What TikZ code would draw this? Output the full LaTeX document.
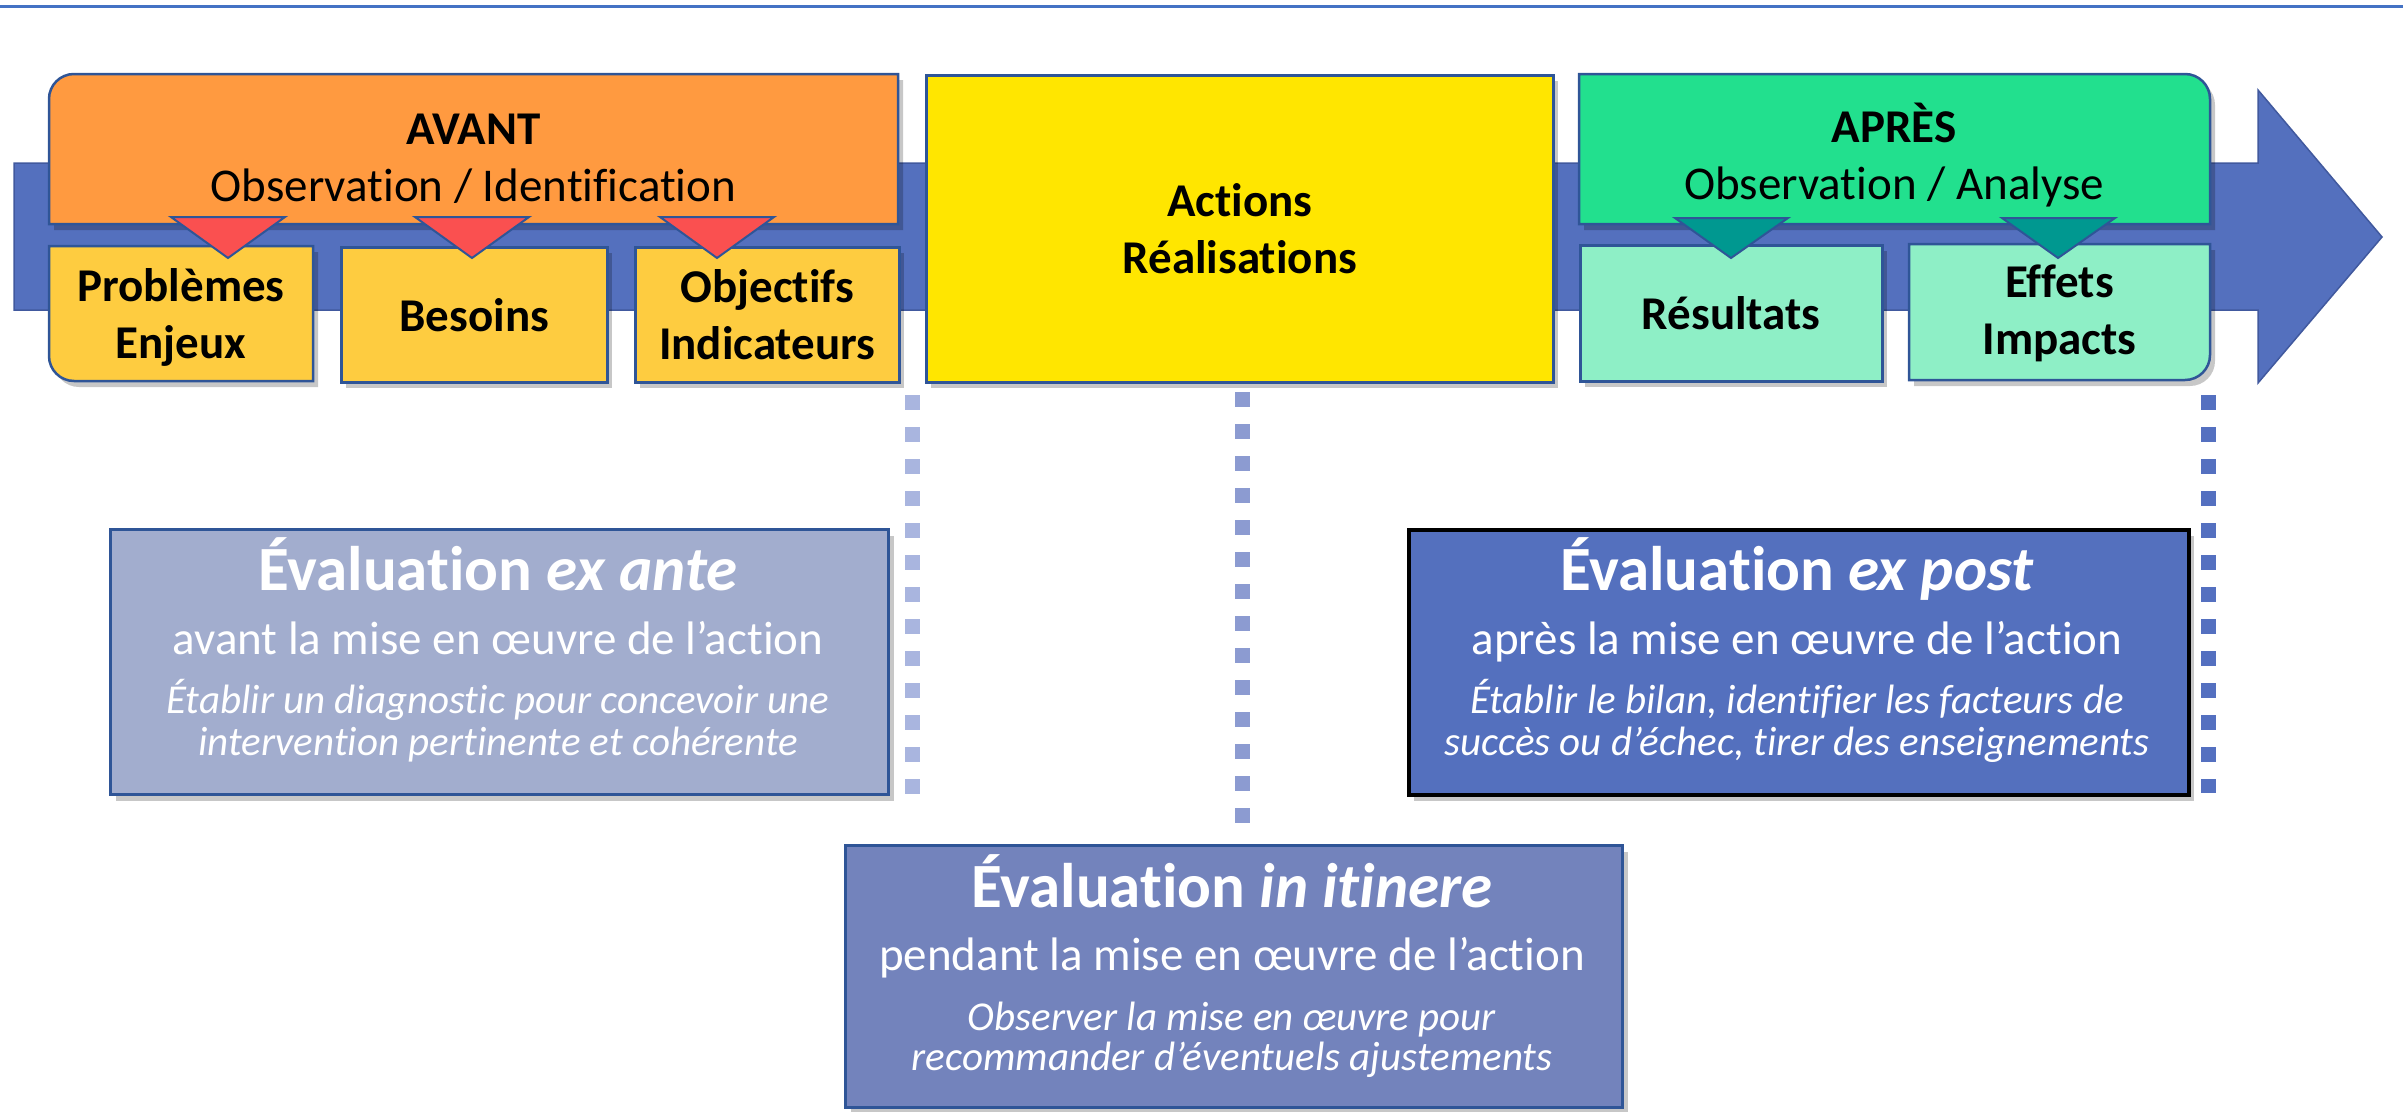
\documentclass[tikz,border=0pt]{standalone}
\usepackage{fontspec}
\setmainfont{Carlito}[Ligatures=NoCommon]
\usetikzlibrary{shadows}
\definecolor{topblue}{HTML}{4472C4}
\definecolor{arrowblue}{HTML}{5470BE}
\definecolor{arrowedge}{HTML}{41599E}
\definecolor{edgeblue}{HTML}{2F5597}
\definecolor{avorange}{HTML}{FF9A40}
\definecolor{cgold}{HTML}{FECC40}
\definecolor{actyellow}{HTML}{FFE600}
\definecolor{apgreen}{HTML}{22E08E}
\definecolor{ltgreen}{HTML}{8EEFC6}
\definecolor{trired}{HTML}{FA5050}
\definecolor{triteal}{HTML}{009890}
\definecolor{exantefill}{HTML}{A2ADCE}
\definecolor{itinerefill}{HTML}{7383BC}
\definecolor{dotA}{HTML}{A9B5DF}
\definecolor{dotB}{HTML}{8C9BD1}
\definecolor{dotC}{HTML}{5470C0}
\begin{document}
\begin{tikzpicture}[x=1pt,y=-1pt]
\tikzset{
  shad/.style={drop shadow={shadow xshift=5pt,shadow yshift=-6pt,opacity=0.22,fill=black}},
  panel/.style={draw=edgeblue,line width=2.5pt,shad},
  lbl/.style={align=center,inner sep=0pt,font=\fontsize{47}{57}\selectfont},
  blbl/.style={lbl,font=\fontsize{47}{57}\selectfont\bfseries},
  panelbox/.style={panel,rectangle,anchor=north west,align=center,inner sep=0pt,font=\fontsize{47}{57}\selectfont\bfseries},
  tri/.style={draw=edgeblue,line width=2pt,line join=miter},
  dots/.style={line width=15pt,dash pattern=on 15pt off 17pt},
  evbox/.style={rectangle,anchor=north west,line width=3pt,shad,inner sep=0pt},
  evtitle/.style={anchor=base,inner sep=0pt,text=white,font=\fontsize{63}{64}\selectfont\bfseries},
  evsub/.style={anchor=base,inner sep=0pt,text=white,font=\fontsize{47}{57}\selectfont},
  evit/.style={anchor=base,inner sep=0pt,text=white,font=\fontsize{41}{42}\selectfont\itshape}
}
\useasboundingbox (0,0) rectangle (2403,1111);

% top rule
\coordinate (tlL) at (0,6);
\coordinate (tlR) at (2403,6);
\draw[topblue,line width=3pt] (tlL) -- (tlR);

% big arrow
\draw[fill=arrowblue,draw=arrowedge,line width=1.5pt]
  (14,163) -- (2258,163) -- (2258,90) -- (2382,237) -- (2258,383) -- (2258,310) -- (14,310) -- cycle;

% AVANT
\draw[panel,fill=avorange] (49,224) -- (49,99) arc[start angle=180,end angle=90,radius=25pt] -- (898,74) -- (898,224) -- cycle;
\node[lbl] (avant) at (473.5,158.5) {\textbf{AVANT}\\Observation / Identification};

\draw[panel,fill=cgold] (313,246) -- (49,246) -- (49,356) arc[start angle=180,end angle=270,radius=25pt] -- (313,381) -- cycle;
\node[blbl] (probl) at (181,317) {Problèmes\\Enjeux};
\node[panelbox,fill=cgold,minimum width=266pt,minimum height=135pt] (besoins) at (340,246) {Besoins};
\node[panelbox,fill=cgold,minimum width=264pt,minimum height=135pt] (objectifs) at (634,246) {Objectifs\\Indicateurs};

\draw[tri,fill=trired] (171,217) -- (285,217) -- (228,258) -- cycle;
\draw[tri,fill=trired] (415,217) -- (529,217) -- (472,258) -- cycle;
\draw[tri,fill=trired] (660,217) -- (774,217) -- (717,258) -- cycle;

% Actions
\node[panelbox,fill=actyellow,minimum width=627pt,minimum height=307pt] (actions) at (925,74) {Actions\\Réalisations};

% APRES
\draw[panel,fill=apgreen] (1579,224) -- (1579,74) -- (2185,74) arc[start angle=90,end angle=0,radius=25pt] -- (2210,224) -- cycle;
\node[lbl] (apres) at (1894,155) {\textbf{APRÈS}\\Observation / Analyse};
\node[panelbox,fill=ltgreen,minimum width=302pt,minimum height=136pt] (resultats) at (1579,244) {Résultats};
\draw[panel,fill=ltgreen] (1909,244) -- (2210,244) -- (2210,355) arc[start angle=0,end angle=-90,radius=25pt] -- (1909,380) -- cycle;
\node[blbl] (effets) at (2059.5,313) {Effets\\Impacts};

\draw[tri,fill=triteal] (1675,218) -- (1788,218) -- (1731,258) -- cycle;
\draw[tri,fill=triteal] (2002,218) -- (2115,218) -- (2058,258) -- cycle;

% dotted guides
\coordinate (dAs) at (912,395);
\coordinate (dAe) at (912,795);
\coordinate (dBs) at (1242,392);
\coordinate (dBe) at (1242,823);
\coordinate (dCs) at (2208,395);
\coordinate (dCe) at (2208,793);
\draw[dots,dotA] (dAs) -- (dAe);
\draw[dots,dotB] (dBs) -- (dBe);
\draw[dots,dotC] (dCs) -- (dCe);

% ex ante
\node[evbox,fill=exantefill,draw=edgeblue,minimum width=778pt,minimum height=265pt] (exante) at (109,528) {};
\node[evtitle] (exanteT) at (498,590) {Évaluation \textit{ex ante}};
\node[evsub] (exanteS) at (498,654) {avant la mise en œuvre de l’action};
\node[evit] (exanteI) at (498,713) {Établir un diagnostic pour concevoir une};
\node[evit] (exanteJ) at (498,755) {intervention pertinente et cohérente};

% ex post
\node[evbox,fill=arrowblue,draw=black,line width=3.5pt,minimum width=780pt,minimum height=265pt] (expost) at (1407,528) {};
\node[evtitle] (expostT) at (1797,590) {Évaluation \textit{ex post}};
\node[evsub] (expostS) at (1797,654) {après la mise en œuvre de l’action};
\node[evit] (expostI) at (1797,713) {Établir le bilan, identifier les facteurs de};
\node[evit] (expostJ) at (1797,755) {succès ou d’échec, tirer des enseignements};

% in itinere
\node[evbox,fill=itinerefill,draw=edgeblue,minimum width=777pt,minimum height=262pt] (itinere) at (844,844) {};
\node[evtitle] (itinereT) at (1232,907) {Évaluation \textit{in itinere}};
\node[evsub] (itinereS) at (1232,970) {pendant la mise en œuvre de l’action};
\node[evit] (itinereI) at (1232,1030) {Observer la mise en œuvre pour};
\node[evit] (itinereJ) at (1232,1070) {recommander d’éventuels ajustements};
\end{tikzpicture}
\end{document}
